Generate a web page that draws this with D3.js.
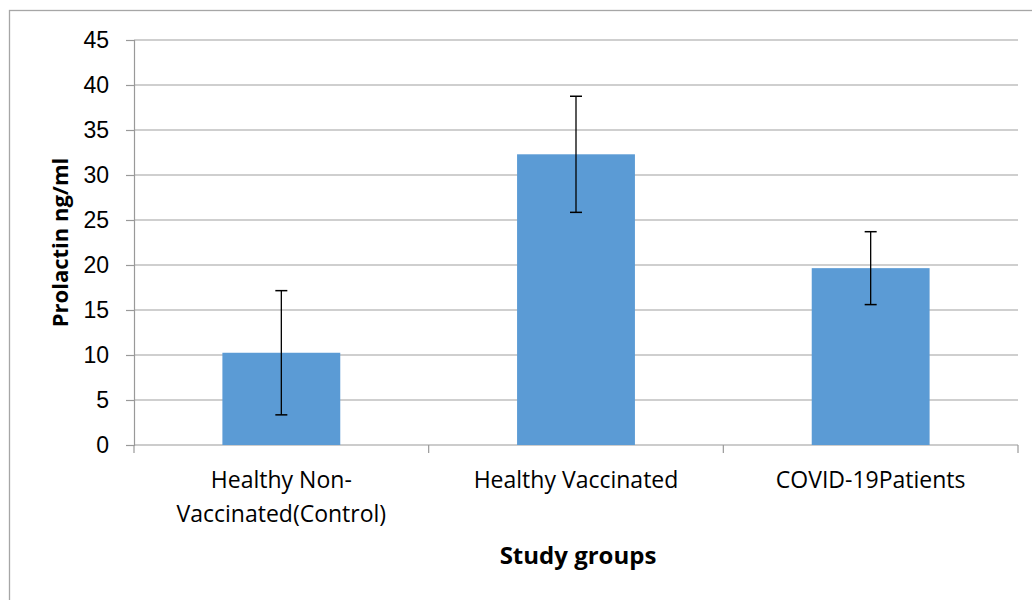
<!DOCTYPE html>
<html>
<head>
<meta charset="utf-8">
<script src="https://cdn.jsdelivr.net/npm/d3@7"></script>
<style>
  body { margin: 0; background: #fff; }
  svg { display: block; font-family: "Open Sans", "Noto Sans", sans-serif; }
</style>
</head>
<body>
<svg id="chart" width="1032" height="600"></svg>
<script>
const categories = ['Healthy Non-Vaccinated(Control)', 'Healthy Vaccinated', 'COVID-19Patients'];
const categoryLines = [['Healthy Non-', 'Vaccinated(Control)'], ['Healthy Vaccinated'], ['COVID-19Patients']];
const means = [10.25, 32.3, 19.65];
const errors = [6.9, 6.45, 4.05];
const yTicks = [0, 5, 10, 15, 20, 25, 30, 35, 40, 45];

const margin = { top: 40, right: 14, bottom: 155, left: 134 };
const width = 1032, height = 600;
const plotW = width - margin.left - margin.right;
const plotH = height - margin.top - margin.bottom;

const svg = d3.select('#chart');

// outer chart border
svg.append('rect')
  .attr('x', 9.5).attr('y', 10.5)
  .attr('width', 1040).attr('height', 600)
  .style('fill', 'none')
  .style('stroke', '#a6a6a6')
  .style('stroke-width', 1.3);

const g = svg.append('g')
  .attr('transform', 'translate(' + margin.left + ',' + margin.top + ')');

const xScale = d3.scaleBand()
  .domain(categories)
  .range([0, plotW])
  .paddingInner(0.6)
  .paddingOuter(0.3);
const yScale = d3.scaleLinear()
  .domain([0, 45])
  .range([plotH, 0]);

// gridlines
g.selectAll('.grid')
  .data(yTicks.filter(d => d > 0))
  .enter().append('line')
  .attr('class', 'grid')
  .attr('x1', 0).attr('x2', plotW)
  .attr('y1', d => yScale(d)).attr('y2', d => yScale(d))
  .style('stroke', '#a0a0a0')
  .style('stroke-width', 1.2);

// y axis
const yAxis = g.append('g')
  .call(d3.axisLeft(yScale).tickValues(yTicks).tickSize(8).tickPadding(17));
yAxis.select('.domain').style('stroke', '#999').style('stroke-width', 1.2);
yAxis.selectAll('.tick line').style('stroke', '#999').style('stroke-width', 1.2);
yAxis.selectAll('.tick text').style('font-size', '23px').style('fill', '#000');

// x axis (category boundaries as ticks)
const bounds = [0, 1, 2, 3].map(i => i * plotW / 3);
const xAxis = g.append('g')
  .attr('transform', 'translate(0,' + plotH + ')');
xAxis.append('line')
  .attr('x1', 0).attr('x2', plotW)
  .style('stroke', '#999').style('stroke-width', 1.2);
xAxis.selectAll('.xtick')
  .data(bounds)
  .enter().append('line')
  .attr('x1', d => d).attr('x2', d => d)
  .attr('y1', 0).attr('y2', 8)
  .style('stroke', '#999').style('stroke-width', 1.2);

// bars
g.selectAll('.bar')
  .data(categories)
  .enter().append('rect')
  .attr('class', 'bar')
  .attr('x', d => xScale(d))
  .attr('width', xScale.bandwidth())
  .attr('y', (d, i) => yScale(means[i]))
  .attr('height', (d, i) => plotH - yScale(means[i]))
  .style('fill', '#5b9bd5');

// error bars
const errG = g.selectAll('.err')
  .data(categories)
  .enter().append('g')
  .attr('class', 'err')
  .attr('transform', d => 'translate(' + (xScale(d) + xScale.bandwidth() / 2) + ',0)');
errG.append('line')
  .attr('x1', 0).attr('x2', 0)
  .attr('y1', (d, i) => yScale(means[i] + errors[i]))
  .attr('y2', (d, i) => yScale(means[i] - errors[i]))
  .style('stroke', '#000').style('stroke-width', 1.3);
errG.append('line')
  .attr('x1', -6).attr('x2', 6)
  .attr('y1', (d, i) => yScale(means[i] + errors[i]))
  .attr('y2', (d, i) => yScale(means[i] + errors[i]))
  .style('stroke', '#000').style('stroke-width', 1.5);
errG.append('line')
  .attr('x1', -6).attr('x2', 6)
  .attr('y1', (d, i) => yScale(means[i] - errors[i]))
  .attr('y2', (d, i) => yScale(means[i] - errors[i]))
  .style('stroke', '#000').style('stroke-width', 1.5);

// category labels
const labels = g.selectAll('.cat')
  .data(categories)
  .enter().append('text')
  .attr('class', 'cat')
  .attr('x', d => xScale(d) + xScale.bandwidth() / 2)
  .attr('y', plotH + 43)
  .style('text-anchor', 'middle')
  .style('font-size', '23px')
  .style('fill', '#000');
labels.each(function(d, i) {
  d3.select(this).selectAll('tspan')
    .data(categoryLines[i])
    .enter().append('tspan')
    .attr('x', xScale(d) + xScale.bandwidth() / 2)
    .attr('dy', (t, j) => j === 0 ? 0 : 34)
    .text(t => t);
});

// axis titles
svg.append('text')
  .attr('x', margin.left + plotW / 2 + 2)
  .attr('y', 564)
  .style('text-anchor', 'middle')
  .style('font-size', '24px')
  .style('font-weight', 'bold')
  .text('Study groups');
svg.append('text')
  .attr('transform', 'translate(68,' + (margin.top + plotH / 2) + ') rotate(-90)')
  .style('text-anchor', 'middle')
  .style('font-size', '22px')
  .style('font-weight', 'bold')
  .text('Prolactin ng/ml');
</script>
</body>
</html>
